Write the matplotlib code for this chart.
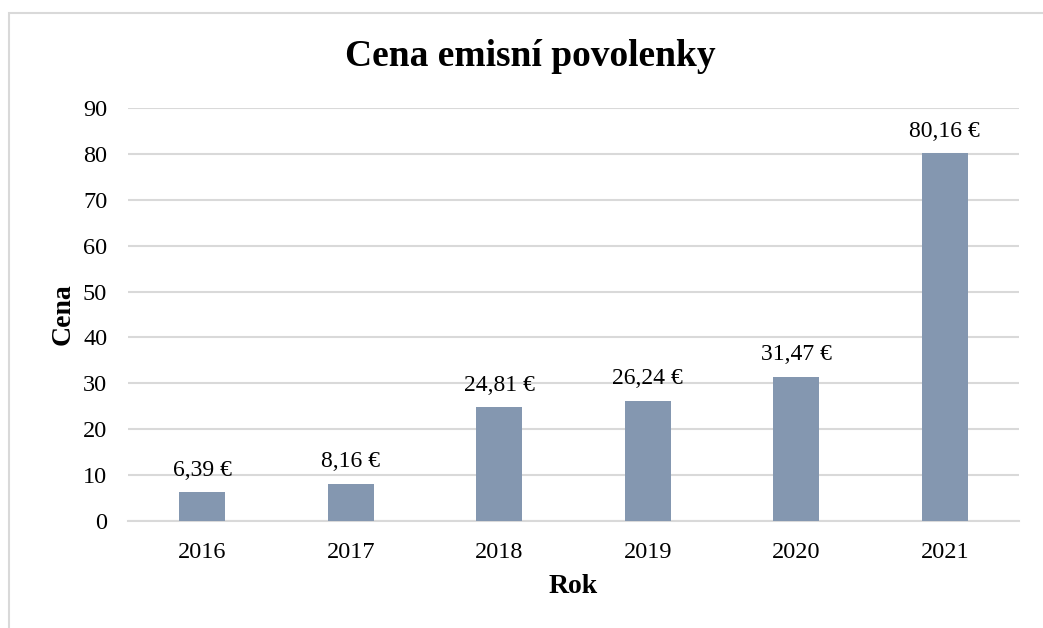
import numpy as np
import matplotlib
matplotlib.use('Agg')
import matplotlib.pyplot as plt
from matplotlib.patches import Rectangle

plt.rcParams['font.family'] = ['Liberation Serif', 'DejaVu Serif']

years = ['2016', '2017', '2018', '2019', '2020', '2021']
prices = [6.39, 8.16, 24.81, 26.24, 31.47, 80.16]
price_labels = ['6,39 €', '8,16 €', '24,81 €', '26,24 €', '31,47 €', '80,16 €']
yticks = [0, 10, 20, 30, 40, 50, 60, 70, 80, 90]

fig = plt.figure(figsize=(10.43, 6.28), dpi=100)
ax = fig.add_axes([0.1227, 0.1704, 0.8543, 0.6576])

# light frame around chart (top + left only visible)
fig.add_artist(Rectangle((9/1043, -0.01), 1.1, 1 - 13/628 + 0.01, transform=fig.transFigure,
                         fill=False, edgecolor='#D9D9D9', lw=1.5))

x = np.arange(len(years))
bars = ax.bar(x, prices, width=0.31, color='#8497B0', zorder=3)

for xi, val, lab in zip(x, prices, price_labels):
    ax.annotate(lab, (xi, val), xytext=(0, 8), textcoords='offset points',
                ha='center', va='bottom', fontsize=17)

ax.set_xlim(-0.5, len(years) - 0.5)
ax.set_ylim(0, 90)
ax.set_yticks(yticks)
ax.set_xticks(x)
ax.set_xticklabels(years)
ax.tick_params(axis='both', length=0, labelsize=17.5)
ax.tick_params(axis='x', pad=15)
ax.tick_params(axis='y', pad=15)
ax.grid(axis='y', color='#D9D9D9', lw=1.5, zorder=0)
for s in ['top', 'right', 'left']:
    ax.spines[s].set_visible(False)
ax.spines['bottom'].set_color('#D9D9D9')
ax.spines['bottom'].set_linewidth(1.5)

fig.text(530/1043, 1 - 57/628, 'Cena emisní povolenky', fontsize=27, fontweight='bold',
         ha='center', va='center')
ax.set_xlabel('Rok', fontsize=20, fontweight='bold', labelpad=8)
ax.set_ylabel('Cena', fontsize=20, fontweight='bold', labelpad=5)

fig.savefig('out.png', dpi=100)
